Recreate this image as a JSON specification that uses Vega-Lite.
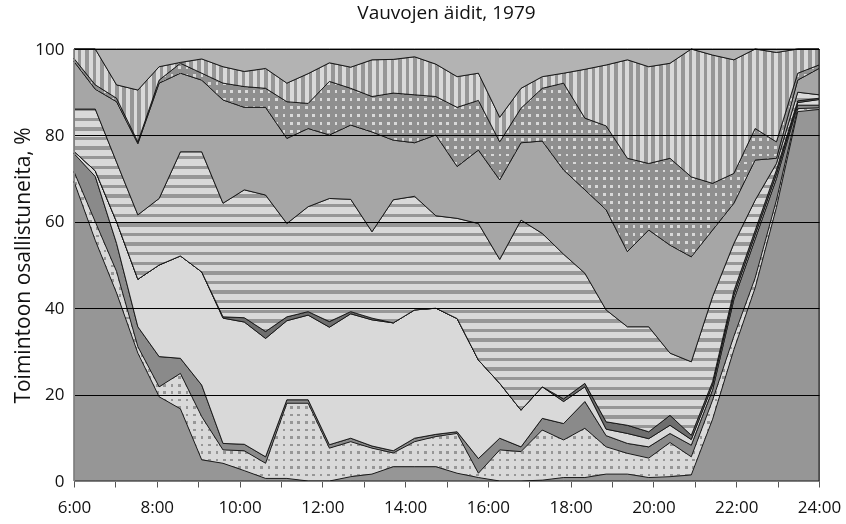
{
  "$schema": "https://vega.github.io/schema/vega-lite/v6.json",
  "width": 745,
  "height": 432,
  "autosize": "none",
  "padding": {"left": 74, "top": 49, "right": 27, "bottom": 43},
  "background": "white",
  "config": {
    "font": "Open Sans",
    "view": {"stroke": "#808080", "strokeWidth": 1},
    "axis": {"labelFont": "Open Sans", "titleFont": "Open Sans", "labelColor": "#111", "titleColor": "#111", "domainColor": "#808080"}
  },
  "title": {"text": "Vauvojen äidit, 1979", "fontSize": 19, "fontWeight": "normal", "color": "#111", "offset": 17, "anchor": "middle"},
  "data": {"values": [
    {"t": 6.000, "L01": 69.3, "L02": 2.3, "L03": 4.2, "L04": 0.5, "L05": 0, "L06": 9.8, "L07": 11.0, "L08": 0.7, "L09": 2.2, "L10": 0},
    {"t": 6.514, "L01": 55.7, "L02": 4.3, "L03": 10.5, "L04": 1.3, "L05": 0, "L06": 14.3, "L07": 4.6, "L08": 1.0, "L09": 8.3, "L10": 0},
    {"t": 7.029, "L01": 43.5, "L02": 5.0, "L03": 6.5, "L04": 5.0, "L05": 0, "L06": 13.8, "L07": 14.0, "L08": 0.8, "L09": 3.1, "L10": 8.3},
    {"t": 7.543, "L01": 29.6, "L02": 1.5, "L03": 4.6, "L04": 11.0, "L05": 0, "L06": 14.9, "L07": 16.5, "L08": 0.4, "L09": 12.0, "L10": 9.5},
    {"t": 8.057, "L01": 19.5, "L02": 2.3, "L03": 7.0, "L04": 21.2, "L05": 0, "L06": 15.4, "L07": 26.7, "L08": 0.7, "L09": 3.1, "L10": 4.1},
    {"t": 8.571, "L01": 16.7, "L02": 8.2, "L03": 3.5, "L04": 23.7, "L05": 0, "L06": 24.1, "L07": 18.2, "L08": 2.3, "L09": 0.2, "L10": 3.1},
    {"t": 9.086, "L01": 4.9, "L02": 10.0, "L03": 7.3, "L04": 26.2, "L05": 0, "L06": 27.8, "L07": 16.6, "L08": 1.6, "L09": 3.3, "L10": 2.3},
    {"t": 9.600, "L01": 4.1, "L02": 3.1, "L03": 1.5, "L04": 29.0, "L05": 0.3, "L06": 26.3, "L07": 23.9, "L08": 3.9, "L09": 3.8, "L10": 4.1},
    {"t": 10.114, "L01": 2.4, "L02": 4.6, "L03": 1.5, "L04": 28.3, "L05": 1.0, "L06": 29.6, "L07": 19.1, "L08": 4.8, "L09": 3.5, "L10": 5.2},
    {"t": 10.629, "L01": 0.6, "L02": 3.5, "L03": 1.5, "L04": 27.4, "L05": 1.6, "L06": 31.6, "L07": 20.3, "L08": 4.4, "L09": 4.6, "L10": 4.5},
    {"t": 11.143, "L01": 0.6, "L02": 17.4, "L03": 0.8, "L04": 18.3, "L05": 0.9, "L06": 21.6, "L07": 19.7, "L08": 8.5, "L09": 4.3, "L10": 7.9},
    {"t": 11.657, "L01": 0, "L02": 18.0, "L03": 0.8, "L04": 19.6, "L05": 0.8, "L06": 24.3, "L07": 18.1, "L08": 5.8, "L09": 6.9, "L10": 5.7},
    {"t": 12.171, "L01": 0, "L02": 7.6, "L03": 0.8, "L04": 27.2, "L05": 1.3, "L06": 28.5, "L07": 14.7, "L08": 12.4, "L09": 4.3, "L10": 3.2},
    {"t": 12.686, "L01": 1.0, "L02": 8.1, "L03": 0.8, "L04": 28.8, "L05": 0.5, "L06": 26.0, "L07": 17.2, "L08": 8.5, "L09": 4.9, "L10": 4.2},
    {"t": 13.200, "L01": 1.6, "L02": 6.0, "L03": 0.5, "L04": 29.2, "L05": 0.4, "L06": 20.0, "L07": 23.1, "L08": 8.2, "L09": 8.5, "L10": 2.5},
    {"t": 13.714, "L01": 3.3, "L02": 3.2, "L03": 0.5, "L04": 29.6, "L05": 0, "L06": 28.5, "L07": 13.8, "L08": 10.9, "L09": 7.8, "L10": 2.4},
    {"t": 14.229, "L01": 3.3, "L02": 5.8, "L03": 0.8, "L04": 29.7, "L05": 0, "L06": 26.3, "L07": 12.4, "L08": 11.1, "L09": 8.8, "L10": 1.8},
    {"t": 14.743, "L01": 3.3, "L02": 7.0, "L03": 0.5, "L04": 29.2, "L05": 0, "L06": 21.4, "L07": 18.7, "L08": 8.9, "L09": 7.5, "L10": 3.5},
    {"t": 15.257, "L01": 1.8, "L02": 9.2, "L03": 0.4, "L04": 26.2, "L05": 0, "L06": 23.2, "L07": 12.0, "L08": 13.7, "L09": 7.1, "L10": 6.4},
    {"t": 15.771, "L01": 0.8, "L02": 1.0, "L03": 3.4, "L04": 22.8, "L05": 0, "L06": 31.6, "L07": 17.0, "L08": 11.5, "L09": 6.3, "L10": 5.6},
    {"t": 16.286, "L01": 0, "L02": 7.2, "L03": 2.7, "L04": 12.7, "L05": 0, "L06": 28.7, "L07": 18.4, "L08": 8.8, "L09": 5.7, "L10": 15.8},
    {"t": 16.800, "L01": 0, "L02": 6.8, "L03": 1.1, "L04": 8.5, "L05": 0, "L06": 44.0, "L07": 17.9, "L08": 8.0, "L09": 4.6, "L10": 9.1},
    {"t": 17.314, "L01": 0.2, "L02": 11.6, "L03": 2.7, "L04": 7.3, "L05": 0, "L06": 35.5, "L07": 21.4, "L08": 12.2, "L09": 2.7, "L10": 6.4},
    {"t": 17.829, "L01": 0.8, "L02": 8.7, "L03": 3.8, "L04": 5.1, "L05": 0.6, "L06": 33.5, "L07": 19.5, "L08": 20.1, "L09": 2.3, "L10": 5.6},
    {"t": 18.343, "L01": 0.8, "L02": 11.4, "L03": 6.2, "L04": 3.4, "L05": 0.8, "L06": 25.5, "L07": 19.3, "L08": 16.6, "L09": 11.3, "L10": 4.7},
    {"t": 18.857, "L01": 1.6, "L02": 6.3, "L03": 2.6, "L04": 1.5, "L05": 1.7, "L06": 25.9, "L07": 23.2, "L08": 19.4, "L09": 14.1, "L10": 3.7},
    {"t": 19.371, "L01": 1.6, "L02": 4.8, "L03": 2.3, "L04": 2.3, "L05": 1.9, "L06": 22.8, "L07": 17.4, "L08": 21.6, "L09": 22.8, "L10": 2.5},
    {"t": 19.886, "L01": 0.8, "L02": 4.5, "L03": 2.6, "L04": 1.9, "L05": 1.6, "L06": 24.3, "L07": 22.4, "L08": 15.4, "L09": 22.4, "L10": 4.1},
    {"t": 20.400, "L01": 1.0, "L02": 7.9, "L03": 2.1, "L04": 1.9, "L05": 2.3, "L06": 14.4, "L07": 25.0, "L08": 20.1, "L09": 22.0, "L10": 3.3},
    {"t": 20.914, "L01": 1.4, "L02": 4.2, "L03": 2.7, "L04": 1.3, "L05": 1.0, "L06": 17.0, "L07": 24.3, "L08": 18.5, "L09": 29.6, "L10": 0},
    {"t": 21.429, "L01": 14.3, "L02": 4.4, "L03": 2.4, "L04": 1.1, "L05": 0.8, "L06": 19.7, "L07": 15.4, "L08": 10.8, "L09": 29.7, "L10": 1.4},
    {"t": 21.943, "L01": 30.4, "L02": 3.1, "L03": 8.5, "L04": 1.0, "L05": 1.0, "L06": 11.0, "L07": 9.3, "L08": 6.9, "L09": 26.3, "L10": 2.5},
    {"t": 22.457, "L01": 44.7, "L02": 2.3, "L03": 9.0, "L04": 1.0, "L05": 1.0, "L06": 7.0, "L07": 9.3, "L08": 7.3, "L09": 18.4, "L10": 0},
    {"t": 22.971, "L01": 63.3, "L02": 1.7, "L03": 5.0, "L04": 1.0, "L05": 1.0, "L06": 1.5, "L07": 1.2, "L08": 3.8, "L09": 20.7, "L10": 0.8},
    {"t": 23.486, "L01": 85.5, "L02": 0.7, "L03": 0.8, "L04": 0.6, "L05": 0.4, "L06": 2.0, "L07": 2.8, "L08": 1.6, "L09": 5.6, "L10": 0},
    {"t": 24.000, "L01": 86.0, "L02": 0.4, "L03": 0.6, "L04": 1.3, "L05": 0.3, "L06": 0.8, "L07": 6.1, "L08": 0.8, "L09": 3.7, "L10": 0}
  ]},
  "transform": [
    {"fold": ["L01", "L02", "L03", "L04", "L05", "L06", "L07", "L08", "L09", "L10"], "as": ["key", "value"]},
    {"stack": "value", "groupby": ["t"], "sort": [{"field": "key", "order": "ascending"}], "as": ["y0", "y1"]}
  ],
  "encoding": {
    "x": {"field": "t", "type": "quantitative", "scale": {"domain": [6, 24], "nice": false, "zero": false},
      "axis": {"title": null, "values": [6,7,8,9,10,11,12,13,14,15,16,17,18,19,20,21,22,23,24], "labelExpr": "datum.value % 2 == 0 ? datum.value + ':00' : ''", "labelFontSize": 17, "tickSize": 6, "tickColor": "#555", "labelPadding": 12, "grid": false, "labelFlush": false, "labelOverlap": false, "zindex": 1}},
    "y": {"field": "y1", "type": "quantitative", "scale": {"domain": [0, 100], "nice": false},
      "axis": {"title": "Toimintoon osallistuneita, %", "titleFontSize": 21, "titleFontWeight": "normal", "titlePadding": 1, "values": [0,20,40,60,80,100], "labelFontSize": 17, "ticks": false, "labelPadding": 10, "grid": true, "gridColor": "#000", "gridWidth": 1, "zindex": 1}},
    "y2": {"field": "y0"}
  },
  "layer": [
    {"transform": [{"filter": "datum.key === 'L02'"}], "mark": {"type": "area", "stroke": "#111", "strokeWidth": 0.9, "fill": {"gradient": "linear", "x1": 0, "y1": 0, "x2": 1, "y2": 0, "stops": [
      {"offset":0,"color":"#969696"},{"offset":0.0035,"color":"#969696"},{"offset":0.0035,"color":"#d9d9d9"},{"offset":0.01,"color":"#d9d9d9"},
      {"offset":0.01,"color":"#969696"},{"offset":0.0135,"color":"#969696"},{"offset":0.0135,"color":"#d9d9d9"},{"offset":0.02,"color":"#d9d9d9"},
      {"offset":0.02,"color":"#969696"},{"offset":0.0235,"color":"#969696"},{"offset":0.0235,"color":"#d9d9d9"},{"offset":0.03,"color":"#d9d9d9"},
      {"offset":0.03,"color":"#969696"},{"offset":0.0335,"color":"#969696"},{"offset":0.0335,"color":"#d9d9d9"},{"offset":0.04,"color":"#d9d9d9"},
      {"offset":0.04,"color":"#969696"},{"offset":0.0435,"color":"#969696"},{"offset":0.0435,"color":"#d9d9d9"},{"offset":0.05,"color":"#d9d9d9"},
      {"offset":0.05,"color":"#969696"},{"offset":0.0535,"color":"#969696"},{"offset":0.0535,"color":"#d9d9d9"},{"offset":0.06,"color":"#d9d9d9"},
      {"offset":0.06,"color":"#969696"},{"offset":0.0635,"color":"#969696"},{"offset":0.0635,"color":"#d9d9d9"},{"offset":0.07,"color":"#d9d9d9"},
      {"offset":0.07,"color":"#969696"},{"offset":0.0735,"color":"#969696"},{"offset":0.0735,"color":"#d9d9d9"},{"offset":0.08,"color":"#d9d9d9"},
      {"offset":0.08,"color":"#969696"},{"offset":0.0835,"color":"#969696"},{"offset":0.0835,"color":"#d9d9d9"},{"offset":0.09,"color":"#d9d9d9"},
      {"offset":0.09,"color":"#969696"},{"offset":0.0935,"color":"#969696"},{"offset":0.0935,"color":"#d9d9d9"},{"offset":0.1,"color":"#d9d9d9"},
      {"offset":0.1,"color":"#969696"},{"offset":0.1035,"color":"#969696"},{"offset":0.1035,"color":"#d9d9d9"},{"offset":0.11,"color":"#d9d9d9"},
      {"offset":0.11,"color":"#969696"},{"offset":0.1135,"color":"#969696"},{"offset":0.1135,"color":"#d9d9d9"},{"offset":0.12,"color":"#d9d9d9"},
      {"offset":0.12,"color":"#969696"},{"offset":0.1235,"color":"#969696"},{"offset":0.1235,"color":"#d9d9d9"},{"offset":0.13,"color":"#d9d9d9"},
      {"offset":0.13,"color":"#969696"},{"offset":0.1335,"color":"#969696"},{"offset":0.1335,"color":"#d9d9d9"},{"offset":0.14,"color":"#d9d9d9"},
      {"offset":0.14,"color":"#969696"},{"offset":0.1435,"color":"#969696"},{"offset":0.1435,"color":"#d9d9d9"},{"offset":0.15,"color":"#d9d9d9"},
      {"offset":0.15,"color":"#969696"},{"offset":0.1535,"color":"#969696"},{"offset":0.1535,"color":"#d9d9d9"},{"offset":0.16,"color":"#d9d9d9"},
      {"offset":0.16,"color":"#969696"},{"offset":0.1635,"color":"#969696"},{"offset":0.1635,"color":"#d9d9d9"},{"offset":0.17,"color":"#d9d9d9"},
      {"offset":0.17,"color":"#969696"},{"offset":0.1735,"color":"#969696"},{"offset":0.1735,"color":"#d9d9d9"},{"offset":0.18,"color":"#d9d9d9"},
      {"offset":0.18,"color":"#969696"},{"offset":0.1835,"color":"#969696"},{"offset":0.1835,"color":"#d9d9d9"},{"offset":0.19,"color":"#d9d9d9"},
      {"offset":0.19,"color":"#969696"},{"offset":0.1935,"color":"#969696"},{"offset":0.1935,"color":"#d9d9d9"},{"offset":0.2,"color":"#d9d9d9"},
      {"offset":0.2,"color":"#969696"},{"offset":0.2035,"color":"#969696"},{"offset":0.2035,"color":"#d9d9d9"},{"offset":0.21,"color":"#d9d9d9"},
      {"offset":0.21,"color":"#969696"},{"offset":0.2135,"color":"#969696"},{"offset":0.2135,"color":"#d9d9d9"},{"offset":0.22,"color":"#d9d9d9"},
      {"offset":0.22,"color":"#969696"},{"offset":0.2235,"color":"#969696"},{"offset":0.2235,"color":"#d9d9d9"},{"offset":0.23,"color":"#d9d9d9"},
      {"offset":0.23,"color":"#969696"},{"offset":0.2335,"color":"#969696"},{"offset":0.2335,"color":"#d9d9d9"},{"offset":0.24,"color":"#d9d9d9"},
      {"offset":0.24,"color":"#969696"},{"offset":0.2435,"color":"#969696"},{"offset":0.2435,"color":"#d9d9d9"},{"offset":0.25,"color":"#d9d9d9"},
      {"offset":0.25,"color":"#969696"},{"offset":0.2535,"color":"#969696"},{"offset":0.2535,"color":"#d9d9d9"},{"offset":0.26,"color":"#d9d9d9"},
      {"offset":0.26,"color":"#969696"},{"offset":0.2635,"color":"#969696"},{"offset":0.2635,"color":"#d9d9d9"},{"offset":0.27,"color":"#d9d9d9"},
      {"offset":0.27,"color":"#969696"},{"offset":0.2735,"color":"#969696"},{"offset":0.2735,"color":"#d9d9d9"},{"offset":0.28,"color":"#d9d9d9"},
      {"offset":0.28,"color":"#969696"},{"offset":0.2835,"color":"#969696"},{"offset":0.2835,"color":"#d9d9d9"},{"offset":0.29,"color":"#d9d9d9"},
      {"offset":0.29,"color":"#969696"},{"offset":0.2935,"color":"#969696"},{"offset":0.2935,"color":"#d9d9d9"},{"offset":0.3,"color":"#d9d9d9"},
      {"offset":0.3,"color":"#969696"},{"offset":0.3035,"color":"#969696"},{"offset":0.3035,"color":"#d9d9d9"},{"offset":0.31,"color":"#d9d9d9"},
      {"offset":0.31,"color":"#969696"},{"offset":0.3135,"color":"#969696"},{"offset":0.3135,"color":"#d9d9d9"},{"offset":0.32,"color":"#d9d9d9"},
      {"offset":0.32,"color":"#969696"},{"offset":0.3235,"color":"#969696"},{"offset":0.3235,"color":"#d9d9d9"},{"offset":0.33,"color":"#d9d9d9"},
      {"offset":0.33,"color":"#969696"},{"offset":0.3335,"color":"#969696"},{"offset":0.3335,"color":"#d9d9d9"},{"offset":0.34,"color":"#d9d9d9"},
      {"offset":0.34,"color":"#969696"},{"offset":0.3435,"color":"#969696"},{"offset":0.3435,"color":"#d9d9d9"},{"offset":0.35,"color":"#d9d9d9"},
      {"offset":0.35,"color":"#969696"},{"offset":0.3535,"color":"#969696"},{"offset":0.3535,"color":"#d9d9d9"},{"offset":0.36,"color":"#d9d9d9"},
      {"offset":0.36,"color":"#969696"},{"offset":0.3635,"color":"#969696"},{"offset":0.3635,"color":"#d9d9d9"},{"offset":0.37,"color":"#d9d9d9"},
      {"offset":0.37,"color":"#969696"},{"offset":0.3735,"color":"#969696"},{"offset":0.3735,"color":"#d9d9d9"},{"offset":0.38,"color":"#d9d9d9"},
      {"offset":0.38,"color":"#969696"},{"offset":0.3835,"color":"#969696"},{"offset":0.3835,"color":"#d9d9d9"},{"offset":0.39,"color":"#d9d9d9"},
      {"offset":0.39,"color":"#969696"},{"offset":0.3935,"color":"#969696"},{"offset":0.3935,"color":"#d9d9d9"},{"offset":0.4,"color":"#d9d9d9"},
      {"offset":0.4,"color":"#969696"},{"offset":0.4035,"color":"#969696"},{"offset":0.4035,"color":"#d9d9d9"},{"offset":0.41,"color":"#d9d9d9"},
      {"offset":0.41,"color":"#969696"},{"offset":0.4135,"color":"#969696"},{"offset":0.4135,"color":"#d9d9d9"},{"offset":0.42,"color":"#d9d9d9"},
      {"offset":0.42,"color":"#969696"},{"offset":0.4235,"color":"#969696"},{"offset":0.4235,"color":"#d9d9d9"},{"offset":0.43,"color":"#d9d9d9"},
      {"offset":0.43,"color":"#969696"},{"offset":0.4335,"color":"#969696"},{"offset":0.4335,"color":"#d9d9d9"},{"offset":0.44,"color":"#d9d9d9"},
      {"offset":0.44,"color":"#969696"},{"offset":0.4435,"color":"#969696"},{"offset":0.4435,"color":"#d9d9d9"},{"offset":0.45,"color":"#d9d9d9"},
      {"offset":0.45,"color":"#969696"},{"offset":0.4535,"color":"#969696"},{"offset":0.4535,"color":"#d9d9d9"},{"offset":0.46,"color":"#d9d9d9"},
      {"offset":0.46,"color":"#969696"},{"offset":0.4635,"color":"#969696"},{"offset":0.4635,"color":"#d9d9d9"},{"offset":0.47,"color":"#d9d9d9"},
      {"offset":0.47,"color":"#969696"},{"offset":0.4735,"color":"#969696"},{"offset":0.4735,"color":"#d9d9d9"},{"offset":0.48,"color":"#d9d9d9"},
      {"offset":0.48,"color":"#969696"},{"offset":0.4835,"color":"#969696"},{"offset":0.4835,"color":"#d9d9d9"},{"offset":0.49,"color":"#d9d9d9"},
      {"offset":0.49,"color":"#969696"},{"offset":0.4935,"color":"#969696"},{"offset":0.4935,"color":"#d9d9d9"},{"offset":0.5,"color":"#d9d9d9"},
      {"offset":0.5,"color":"#969696"},{"offset":0.5035,"color":"#969696"},{"offset":0.5035,"color":"#d9d9d9"},{"offset":0.51,"color":"#d9d9d9"},
      {"offset":0.51,"color":"#969696"},{"offset":0.5135,"color":"#969696"},{"offset":0.5135,"color":"#d9d9d9"},{"offset":0.52,"color":"#d9d9d9"},
      {"offset":0.52,"color":"#969696"},{"offset":0.5235,"color":"#969696"},{"offset":0.5235,"color":"#d9d9d9"},{"offset":0.53,"color":"#d9d9d9"},
      {"offset":0.53,"color":"#969696"},{"offset":0.5335,"color":"#969696"},{"offset":0.5335,"color":"#d9d9d9"},{"offset":0.54,"color":"#d9d9d9"},
      {"offset":0.54,"color":"#969696"},{"offset":0.5435,"color":"#969696"},{"offset":0.5435,"color":"#d9d9d9"},{"offset":0.55,"color":"#d9d9d9"},
      {"offset":0.55,"color":"#969696"},{"offset":0.5535,"color":"#969696"},{"offset":0.5535,"color":"#d9d9d9"},{"offset":0.56,"color":"#d9d9d9"},
      {"offset":0.56,"color":"#969696"},{"offset":0.5635,"color":"#969696"},{"offset":0.5635,"color":"#d9d9d9"},{"offset":0.57,"color":"#d9d9d9"},
      {"offset":0.57,"color":"#969696"},{"offset":0.5735,"color":"#969696"},{"offset":0.5735,"color":"#d9d9d9"},{"offset":0.58,"color":"#d9d9d9"},
      {"offset":0.58,"color":"#969696"},{"offset":0.5835,"color":"#969696"},{"offset":0.5835,"color":"#d9d9d9"},{"offset":0.59,"color":"#d9d9d9"},
      {"offset":0.59,"color":"#969696"},{"offset":0.5935,"color":"#969696"},{"offset":0.5935,"color":"#d9d9d9"},{"offset":0.6,"color":"#d9d9d9"},
      {"offset":0.6,"color":"#969696"},{"offset":0.6035,"color":"#969696"},{"offset":0.6035,"color":"#d9d9d9"},{"offset":0.61,"color":"#d9d9d9"},
      {"offset":0.61,"color":"#969696"},{"offset":0.6135,"color":"#969696"},{"offset":0.6135,"color":"#d9d9d9"},{"offset":0.62,"color":"#d9d9d9"},
      {"offset":0.62,"color":"#969696"},{"offset":0.6235,"color":"#969696"},{"offset":0.6235,"color":"#d9d9d9"},{"offset":0.63,"color":"#d9d9d9"},
      {"offset":0.63,"color":"#969696"},{"offset":0.6335,"color":"#969696"},{"offset":0.6335,"color":"#d9d9d9"},{"offset":0.64,"color":"#d9d9d9"},
      {"offset":0.64,"color":"#969696"},{"offset":0.6435,"color":"#969696"},{"offset":0.6435,"color":"#d9d9d9"},{"offset":0.65,"color":"#d9d9d9"},
      {"offset":0.65,"color":"#969696"},{"offset":0.6535,"color":"#969696"},{"offset":0.6535,"color":"#d9d9d9"},{"offset":0.66,"color":"#d9d9d9"},
      {"offset":0.66,"color":"#969696"},{"offset":0.6635,"color":"#969696"},{"offset":0.6635,"color":"#d9d9d9"},{"offset":0.67,"color":"#d9d9d9"},
      {"offset":0.67,"color":"#969696"},{"offset":0.6735,"color":"#969696"},{"offset":0.6735,"color":"#d9d9d9"},{"offset":0.68,"color":"#d9d9d9"},
      {"offset":0.68,"color":"#969696"},{"offset":0.6835,"color":"#969696"},{"offset":0.6835,"color":"#d9d9d9"},{"offset":0.69,"color":"#d9d9d9"},
      {"offset":0.69,"color":"#969696"},{"offset":0.6935,"color":"#969696"},{"offset":0.6935,"color":"#d9d9d9"},{"offset":0.7,"color":"#d9d9d9"},
      {"offset":0.7,"color":"#969696"},{"offset":0.7035,"color":"#969696"},{"offset":0.7035,"color":"#d9d9d9"},{"offset":0.71,"color":"#d9d9d9"},
      {"offset":0.71,"color":"#969696"},{"offset":0.7135,"color":"#969696"},{"offset":0.7135,"color":"#d9d9d9"},{"offset":0.72,"color":"#d9d9d9"},
      {"offset":0.72,"color":"#969696"},{"offset":0.7235,"color":"#969696"},{"offset":0.7235,"color":"#d9d9d9"},{"offset":0.73,"color":"#d9d9d9"},
      {"offset":0.73,"color":"#969696"},{"offset":0.7335,"color":"#969696"},{"offset":0.7335,"color":"#d9d9d9"},{"offset":0.74,"color":"#d9d9d9"},
      {"offset":0.74,"color":"#969696"},{"offset":0.7435,"color":"#969696"},{"offset":0.7435,"color":"#d9d9d9"},{"offset":0.75,"color":"#d9d9d9"},
      {"offset":0.75,"color":"#969696"},{"offset":0.7535,"color":"#969696"},{"offset":0.7535,"color":"#d9d9d9"},{"offset":0.76,"color":"#d9d9d9"},
      {"offset":0.76,"color":"#969696"},{"offset":0.7635,"color":"#969696"},{"offset":0.7635,"color":"#d9d9d9"},{"offset":0.77,"color":"#d9d9d9"},
      {"offset":0.77,"color":"#969696"},{"offset":0.7735,"color":"#969696"},{"offset":0.7735,"color":"#d9d9d9"},{"offset":0.78,"color":"#d9d9d9"},
      {"offset":0.78,"color":"#969696"},{"offset":0.7835,"color":"#969696"},{"offset":0.7835,"color":"#d9d9d9"},{"offset":0.79,"color":"#d9d9d9"},
      {"offset":0.79,"color":"#969696"},{"offset":0.7935,"color":"#969696"},{"offset":0.7935,"color":"#d9d9d9"},{"offset":0.8,"color":"#d9d9d9"},
      {"offset":0.8,"color":"#969696"},{"offset":0.8035,"color":"#969696"},{"offset":0.8035,"color":"#d9d9d9"},{"offset":0.81,"color":"#d9d9d9"},
      {"offset":0.81,"color":"#969696"},{"offset":0.8135,"color":"#969696"},{"offset":0.8135,"color":"#d9d9d9"},{"offset":0.82,"color":"#d9d9d9"},
      {"offset":0.82,"color":"#969696"},{"offset":0.8235,"color":"#969696"},{"offset":0.8235,"color":"#d9d9d9"},{"offset":0.83,"color":"#d9d9d9"},
      {"offset":0.83,"color":"#969696"},{"offset":0.8335,"color":"#969696"},{"offset":0.8335,"color":"#d9d9d9"},{"offset":0.84,"color":"#d9d9d9"},
      {"offset":0.84,"color":"#969696"},{"offset":0.8435,"color":"#969696"},{"offset":0.8435,"color":"#d9d9d9"},{"offset":0.85,"color":"#d9d9d9"},
      {"offset":0.85,"color":"#969696"},{"offset":0.8535,"color":"#969696"},{"offset":0.8535,"color":"#d9d9d9"},{"offset":0.86,"color":"#d9d9d9"},
      {"offset":0.86,"color":"#969696"},{"offset":0.8635,"color":"#969696"},{"offset":0.8635,"color":"#d9d9d9"},{"offset":0.87,"color":"#d9d9d9"},
      {"offset":0.87,"color":"#969696"},{"offset":0.8735,"color":"#969696"},{"offset":0.8735,"color":"#d9d9d9"},{"offset":0.88,"color":"#d9d9d9"},
      {"offset":0.88,"color":"#969696"},{"offset":0.8835,"color":"#969696"},{"offset":0.8835,"color":"#d9d9d9"},{"offset":0.89,"color":"#d9d9d9"},
      {"offset":0.89,"color":"#969696"},{"offset":0.8935,"color":"#969696"},{"offset":0.8935,"color":"#d9d9d9"},{"offset":0.9,"color":"#d9d9d9"},
      {"offset":0.9,"color":"#969696"},{"offset":0.9035,"color":"#969696"},{"offset":0.9035,"color":"#d9d9d9"},{"offset":0.91,"color":"#d9d9d9"},
      {"offset":0.91,"color":"#969696"},{"offset":0.9135,"color":"#969696"},{"offset":0.9135,"color":"#d9d9d9"},{"offset":0.92,"color":"#d9d9d9"},
      {"offset":0.92,"color":"#969696"},{"offset":0.9235,"color":"#969696"},{"offset":0.9235,"color":"#d9d9d9"},{"offset":0.93,"color":"#d9d9d9"},
      {"offset":0.93,"color":"#969696"},{"offset":0.9335,"color":"#969696"},{"offset":0.9335,"color":"#d9d9d9"},{"offset":0.94,"color":"#d9d9d9"},
      {"offset":0.94,"color":"#969696"},{"offset":0.9435,"color":"#969696"},{"offset":0.9435,"color":"#d9d9d9"},{"offset":0.95,"color":"#d9d9d9"},
      {"offset":0.95,"color":"#969696"},{"offset":0.9535,"color":"#969696"},{"offset":0.9535,"color":"#d9d9d9"},{"offset":0.96,"color":"#d9d9d9"},
      {"offset":0.96,"color":"#969696"},{"offset":0.9635,"color":"#969696"},{"offset":0.9635,"color":"#d9d9d9"},{"offset":0.97,"color":"#d9d9d9"},
      {"offset":0.97,"color":"#969696"},{"offset":0.9735,"color":"#969696"},{"offset":0.9735,"color":"#d9d9d9"},{"offset":0.98,"color":"#d9d9d9"},
      {"offset":0.98,"color":"#969696"},{"offset":0.9835,"color":"#969696"},{"offset":0.9835,"color":"#d9d9d9"},{"offset":0.99,"color":"#d9d9d9"},
      {"offset":0.99,"color":"#969696"},{"offset":0.9935,"color":"#969696"},{"offset":0.9935,"color":"#d9d9d9"},{"offset":1,"color":"#d9d9d9"}
    ]}}},
    {"transform": [{"filter": "datum.key === 'L02'"}], "mark": {"type": "area", "blend": "lighten", "strokeWidth": 0, "fill": {"gradient": "linear", "x1": 0, "y1": 0, "x2": 0, "y2": 1, "stops": [
      {"offset":0,"color":"#969696"},{"offset":0.007,"color":"#969696"},{"offset":0.007,"color":"#d9d9d9"},{"offset":0.02,"color":"#d9d9d9"},
      {"offset":0.02,"color":"#969696"},{"offset":0.027,"color":"#969696"},{"offset":0.027,"color":"#d9d9d9"},{"offset":0.04,"color":"#d9d9d9"},
      {"offset":0.04,"color":"#969696"},{"offset":0.047,"color":"#969696"},{"offset":0.047,"color":"#d9d9d9"},{"offset":0.06,"color":"#d9d9d9"},
      {"offset":0.06,"color":"#969696"},{"offset":0.067,"color":"#969696"},{"offset":0.067,"color":"#d9d9d9"},{"offset":0.08,"color":"#d9d9d9"},
      {"offset":0.08,"color":"#969696"},{"offset":0.087,"color":"#969696"},{"offset":0.087,"color":"#d9d9d9"},{"offset":0.1,"color":"#d9d9d9"},
      {"offset":0.1,"color":"#969696"},{"offset":0.107,"color":"#969696"},{"offset":0.107,"color":"#d9d9d9"},{"offset":0.12,"color":"#d9d9d9"},
      {"offset":0.12,"color":"#969696"},{"offset":0.127,"color":"#969696"},{"offset":0.127,"color":"#d9d9d9"},{"offset":0.14,"color":"#d9d9d9"},
      {"offset":0.14,"color":"#969696"},{"offset":0.147,"color":"#969696"},{"offset":0.147,"color":"#d9d9d9"},{"offset":0.16,"color":"#d9d9d9"},
      {"offset":0.16,"color":"#969696"},{"offset":0.167,"color":"#969696"},{"offset":0.167,"color":"#d9d9d9"},{"offset":0.18,"color":"#d9d9d9"},
      {"offset":0.18,"color":"#969696"},{"offset":0.187,"color":"#969696"},{"offset":0.187,"color":"#d9d9d9"},{"offset":0.2,"color":"#d9d9d9"},
      {"offset":0.2,"color":"#969696"},{"offset":0.207,"color":"#969696"},{"offset":0.207,"color":"#d9d9d9"},{"offset":0.22,"color":"#d9d9d9"},
      {"offset":0.22,"color":"#969696"},{"offset":0.227,"color":"#969696"},{"offset":0.227,"color":"#d9d9d9"},{"offset":0.24,"color":"#d9d9d9"},
      {"offset":0.24,"color":"#969696"},{"offset":0.247,"color":"#969696"},{"offset":0.247,"color":"#d9d9d9"},{"offset":0.26,"color":"#d9d9d9"},
      {"offset":0.26,"color":"#969696"},{"offset":0.267,"color":"#969696"},{"offset":0.267,"color":"#d9d9d9"},{"offset":0.28,"color":"#d9d9d9"},
      {"offset":0.28,"color":"#969696"},{"offset":0.287,"color":"#969696"},{"offset":0.287,"color":"#d9d9d9"},{"offset":0.3,"color":"#d9d9d9"},
      {"offset":0.3,"color":"#969696"},{"offset":0.307,"color":"#969696"},{"offset":0.307,"color":"#d9d9d9"},{"offset":0.32,"color":"#d9d9d9"},
      {"offset":0.32,"color":"#969696"},{"offset":0.327,"color":"#969696"},{"offset":0.327,"color":"#d9d9d9"},{"offset":0.34,"color":"#d9d9d9"},
      {"offset":0.34,"color":"#969696"},{"offset":0.347,"color":"#969696"},{"offset":0.347,"color":"#d9d9d9"},{"offset":0.36,"color":"#d9d9d9"},
      {"offset":0.36,"color":"#969696"},{"offset":0.367,"color":"#969696"},{"offset":0.367,"color":"#d9d9d9"},{"offset":0.38,"color":"#d9d9d9"},
      {"offset":0.38,"color":"#969696"},{"offset":0.387,"color":"#969696"},{"offset":0.387,"color":"#d9d9d9"},{"offset":0.4,"color":"#d9d9d9"},
      {"offset":0.4,"color":"#969696"},{"offset":0.407,"color":"#969696"},{"offset":0.407,"color":"#d9d9d9"},{"offset":0.42,"color":"#d9d9d9"},
      {"offset":0.42,"color":"#969696"},{"offset":0.427,"color":"#969696"},{"offset":0.427,"color":"#d9d9d9"},{"offset":0.44,"color":"#d9d9d9"},
      {"offset":0.44,"color":"#969696"},{"offset":0.447,"color":"#969696"},{"offset":0.447,"color":"#d9d9d9"},{"offset":0.46,"color":"#d9d9d9"},
      {"offset":0.46,"color":"#969696"},{"offset":0.467,"color":"#969696"},{"offset":0.467,"color":"#d9d9d9"},{"offset":0.48,"color":"#d9d9d9"},
      {"offset":0.48,"color":"#969696"},{"offset":0.487,"color":"#969696"},{"offset":0.487,"color":"#d9d9d9"},{"offset":0.5,"color":"#d9d9d9"},
      {"offset":0.5,"color":"#969696"},{"offset":0.507,"color":"#969696"},{"offset":0.507,"color":"#d9d9d9"},{"offset":0.52,"color":"#d9d9d9"},
      {"offset":0.52,"color":"#969696"},{"offset":0.527,"color":"#969696"},{"offset":0.527,"color":"#d9d9d9"},{"offset":0.54,"color":"#d9d9d9"},
      {"offset":0.54,"color":"#969696"},{"offset":0.547,"color":"#969696"},{"offset":0.547,"color":"#d9d9d9"},{"offset":0.56,"color":"#d9d9d9"},
      {"offset":0.56,"color":"#969696"},{"offset":0.567,"color":"#969696"},{"offset":0.567,"color":"#d9d9d9"},{"offset":0.58,"color":"#d9d9d9"},
      {"offset":0.58,"color":"#969696"},{"offset":0.587,"color":"#969696"},{"offset":0.587,"color":"#d9d9d9"},{"offset":0.6,"color":"#d9d9d9"},
      {"offset":0.6,"color":"#969696"},{"offset":0.607,"color":"#969696"},{"offset":0.607,"color":"#d9d9d9"},{"offset":0.62,"color":"#d9d9d9"},
      {"offset":0.62,"color":"#969696"},{"offset":0.627,"color":"#969696"},{"offset":0.627,"color":"#d9d9d9"},{"offset":0.64,"color":"#d9d9d9"},
      {"offset":0.64,"color":"#969696"},{"offset":0.647,"color":"#969696"},{"offset":0.647,"color":"#d9d9d9"},{"offset":0.66,"color":"#d9d9d9"},
      {"offset":0.66,"color":"#969696"},{"offset":0.667,"color":"#969696"},{"offset":0.667,"color":"#d9d9d9"},{"offset":0.68,"color":"#d9d9d9"},
      {"offset":0.68,"color":"#969696"},{"offset":0.687,"color":"#969696"},{"offset":0.687,"color":"#d9d9d9"},{"offset":0.7,"color":"#d9d9d9"},
      {"offset":0.7,"color":"#969696"},{"offset":0.707,"color":"#969696"},{"offset":0.707,"color":"#d9d9d9"},{"offset":0.72,"color":"#d9d9d9"},
      {"offset":0.72,"color":"#969696"},{"offset":0.727,"color":"#969696"},{"offset":0.727,"color":"#d9d9d9"},{"offset":0.74,"color":"#d9d9d9"},
      {"offset":0.74,"color":"#969696"},{"offset":0.747,"color":"#969696"},{"offset":0.747,"color":"#d9d9d9"},{"offset":0.76,"color":"#d9d9d9"},
      {"offset":0.76,"color":"#969696"},{"offset":0.767,"color":"#969696"},{"offset":0.767,"color":"#d9d9d9"},{"offset":0.78,"color":"#d9d9d9"},
      {"offset":0.78,"color":"#969696"},{"offset":0.787,"color":"#969696"},{"offset":0.787,"color":"#d9d9d9"},{"offset":0.8,"color":"#d9d9d9"},
      {"offset":0.8,"color":"#969696"},{"offset":0.807,"color":"#969696"},{"offset":0.807,"color":"#d9d9d9"},{"offset":0.82,"color":"#d9d9d9"},
      {"offset":0.82,"color":"#969696"},{"offset":0.827,"color":"#969696"},{"offset":0.827,"color":"#d9d9d9"},{"offset":0.84,"color":"#d9d9d9"},
      {"offset":0.84,"color":"#969696"},{"offset":0.847,"color":"#969696"},{"offset":0.847,"color":"#d9d9d9"},{"offset":0.86,"color":"#d9d9d9"},
      {"offset":0.86,"color":"#969696"},{"offset":0.867,"color":"#969696"},{"offset":0.867,"color":"#d9d9d9"},{"offset":0.88,"color":"#d9d9d9"},
      {"offset":0.88,"color":"#969696"},{"offset":0.887,"color":"#969696"},{"offset":0.887,"color":"#d9d9d9"},{"offset":0.9,"color":"#d9d9d9"},
      {"offset":0.9,"color":"#969696"},{"offset":0.907,"color":"#969696"},{"offset":0.907,"color":"#d9d9d9"},{"offset":0.92,"color":"#d9d9d9"},
      {"offset":0.92,"color":"#969696"},{"offset":0.927,"color":"#969696"},{"offset":0.927,"color":"#d9d9d9"},{"offset":0.94,"color":"#d9d9d9"},
      {"offset":0.94,"color":"#969696"},{"offset":0.947,"color":"#969696"},{"offset":0.947,"color":"#d9d9d9"},{"offset":0.96,"color":"#d9d9d9"},
      {"offset":0.96,"color":"#969696"},{"offset":0.967,"color":"#969696"},{"offset":0.967,"color":"#d9d9d9"},{"offset":0.98,"color":"#d9d9d9"},
      {"offset":0.98,"color":"#969696"},{"offset":0.987,"color":"#969696"},{"offset":0.987,"color":"#d9d9d9"},{"offset":1,"color":"#d9d9d9"}
    ]}}},
    {"transform": [{"filter": "datum.key === 'L01'"}], "mark": {"type": "area", "fill": "#969696", "stroke": "#111", "strokeWidth": 0.9}},
    {"transform": [{"filter": "datum.key === 'L03'"}], "mark": {"type": "area", "fill": "#8a8a8a", "stroke": "#111", "strokeWidth": 0.9}},
    {"transform": [{"filter": "datum.key === 'L04'"}], "mark": {"type": "area", "fill": "#d9d9d9", "stroke": "#111", "strokeWidth": 0.9}},
    {"transform": [{"filter": "datum.key === 'L05'"}], "mark": {"type": "area", "fill": "#6e6e6e", "stroke": "#111", "strokeWidth": 0.9}},
    {"transform": [{"filter": "datum.key === 'L06'"}], "mark": {"type": "area", "stroke": "#111", "strokeWidth": 0.9, "fill": {"gradient": "linear", "x1": 0, "y1": 0, "x2": 0, "y2": 1, "stops": [
      {"offset": 0, "color": "#d9d9d9"}, {"offset": 0.018, "color": "#d9d9d9"}, {"offset": 0.018, "color": "#979797"}, {"offset": 0.028, "color": "#979797"},
      {"offset": 0.028, "color": "#d9d9d9"}, {"offset": 0.046, "color": "#d9d9d9"}, {"offset": 0.046, "color": "#979797"}, {"offset": 0.056, "color": "#979797"},
      {"offset": 0.056, "color": "#d9d9d9"}, {"offset": 0.074, "color": "#d9d9d9"}, {"offset": 0.074, "color": "#979797"}, {"offset": 0.084, "color": "#979797"},
      {"offset": 0.084, "color": "#d9d9d9"}, {"offset": 0.102, "color": "#d9d9d9"}, {"offset": 0.102, "color": "#979797"}, {"offset": 0.112, "color": "#979797"},
      {"offset": 0.112, "color": "#d9d9d9"}, {"offset": 0.13, "color": "#d9d9d9"}, {"offset": 0.13, "color": "#979797"}, {"offset": 0.14, "color": "#979797"},
      {"offset": 0.14, "color": "#d9d9d9"}, {"offset": 0.158, "color": "#d9d9d9"}, {"offset": 0.158, "color": "#979797"}, {"offset": 0.168, "color": "#979797"},
      {"offset": 0.168, "color": "#d9d9d9"}, {"offset": 0.186, "color": "#d9d9d9"}, {"offset": 0.186, "color": "#979797"}, {"offset": 0.196, "color": "#979797"},
      {"offset": 0.196, "color": "#d9d9d9"}, {"offset": 0.214, "color": "#d9d9d9"}, {"offset": 0.214, "color": "#979797"}, {"offset": 0.224, "color": "#979797"},
      {"offset": 0.224, "color": "#d9d9d9"}, {"offset": 0.242, "color": "#d9d9d9"}, {"offset": 0.242, "color": "#979797"}, {"offset": 0.252, "color": "#979797"},
      {"offset": 0.252, "color": "#d9d9d9"}, {"offset": 0.27, "color": "#d9d9d9"}, {"offset": 0.27, "color": "#979797"}, {"offset": 0.28, "color": "#979797"},
      {"offset": 0.28, "color": "#d9d9d9"}, {"offset": 0.298, "color": "#d9d9d9"}, {"offset": 0.298, "color": "#979797"}, {"offset": 0.308, "color": "#979797"},
      {"offset": 0.308, "color": "#d9d9d9"}, {"offset": 0.326, "color": "#d9d9d9"}, {"offset": 0.326, "color": "#979797"}, {"offset": 0.336, "color": "#979797"},
      {"offset": 0.336, "color": "#d9d9d9"}, {"offset": 0.354, "color": "#d9d9d9"}, {"offset": 0.354, "color": "#979797"}, {"offset": 0.364, "color": "#979797"},
      {"offset": 0.364, "color": "#d9d9d9"}, {"offset": 0.382, "color": "#d9d9d9"}, {"offset": 0.382, "color": "#979797"}, {"offset": 0.392, "color": "#979797"},
      {"offset": 0.392, "color": "#d9d9d9"}, {"offset": 0.41, "color": "#d9d9d9"}, {"offset": 0.41, "color": "#979797"}, {"offset": 0.42, "color": "#979797"},
      {"offset": 0.42, "color": "#d9d9d9"}, {"offset": 0.438, "color": "#d9d9d9"}, {"offset": 0.438, "color": "#979797"}, {"offset": 0.448, "color": "#979797"},
      {"offset": 0.448, "color": "#d9d9d9"}, {"offset": 0.466, "color": "#d9d9d9"}, {"offset": 0.466, "color": "#979797"}, {"offset": 0.476, "color": "#979797"},
      {"offset": 0.476, "color": "#d9d9d9"}, {"offset": 0.494, "color": "#d9d9d9"}, {"offset": 0.494, "color": "#979797"}, {"offset": 0.504, "color": "#979797"},
      {"offset": 0.504, "color": "#d9d9d9"}, {"offset": 0.522, "color": "#d9d9d9"}, {"offset": 0.522, "color": "#979797"}, {"offset": 0.532, "color": "#979797"},
      {"offset": 0.532, "color": "#d9d9d9"}, {"offset": 0.55, "color": "#d9d9d9"}, {"offset": 0.55, "color": "#979797"}, {"offset": 0.56, "color": "#979797"},
      {"offset": 0.56, "color": "#d9d9d9"}, {"offset": 0.578, "color": "#d9d9d9"}, {"offset": 0.578, "color": "#979797"}, {"offset": 0.588, "color": "#979797"},
      {"offset": 0.588, "color": "#d9d9d9"}, {"offset": 0.606, "color": "#d9d9d9"}, {"offset": 0.606, "color": "#979797"}, {"offset": 0.616, "color": "#979797"},
      {"offset": 0.616, "color": "#d9d9d9"}, {"offset": 0.634, "color": "#d9d9d9"}, {"offset": 0.634, "color": "#979797"}, {"offset": 0.644, "color": "#979797"},
      {"offset": 0.644, "color": "#d9d9d9"}, {"offset": 0.662, "color": "#d9d9d9"}, {"offset": 0.662, "color": "#979797"}, {"offset": 0.672, "color": "#979797"},
      {"offset": 0.672, "color": "#d9d9d9"}, {"offset": 0.69, "color": "#d9d9d9"}, {"offset": 0.69, "color": "#979797"}, {"offset": 0.7, "color": "#979797"},
      {"offset": 0.7, "color": "#d9d9d9"}, {"offset": 0.718, "color": "#d9d9d9"}, {"offset": 0.718, "color": "#979797"}, {"offset": 0.728, "color": "#979797"},
      {"offset": 0.728, "color": "#d9d9d9"}, {"offset": 0.746, "color": "#d9d9d9"}, {"offset": 0.746, "color": "#979797"}, {"offset": 0.756, "color": "#979797"},
      {"offset": 0.756, "color": "#d9d9d9"}, {"offset": 0.774, "color": "#d9d9d9"}, {"offset": 0.774, "color": "#979797"}, {"offset": 0.784, "color": "#979797"},
      {"offset": 0.784, "color": "#d9d9d9"}, {"offset": 0.802, "color": "#d9d9d9"}, {"offset": 0.802, "color": "#979797"}, {"offset": 0.812, "color": "#979797"},
      {"offset": 0.812, "color": "#d9d9d9"}, {"offset": 0.83, "color": "#d9d9d9"}, {"offset": 0.83, "color": "#979797"}, {"offset": 0.84, "color": "#979797"},
      {"offset": 0.84, "color": "#d9d9d9"}, {"offset": 0.858, "color": "#d9d9d9"}, {"offset": 0.858, "color": "#979797"}, {"offset": 0.868, "color": "#979797"},
      {"offset": 0.868, "color": "#d9d9d9"}, {"offset": 0.886, "color": "#d9d9d9"}, {"offset": 0.886, "color": "#979797"}, {"offset": 0.896, "color": "#979797"},
      {"offset": 0.896, "color": "#d9d9d9"}, {"offset": 0.914, "color": "#d9d9d9"}, {"offset": 0.914, "color": "#979797"}, {"offset": 0.924, "color": "#979797"},
      {"offset": 0.924, "color": "#d9d9d9"}, {"offset": 0.942, "color": "#d9d9d9"}, {"offset": 0.942, "color": "#979797"}, {"offset": 0.952, "color": "#979797"},
      {"offset": 0.952, "color": "#d9d9d9"}, {"offset": 0.97, "color": "#d9d9d9"}, {"offset": 0.97, "color": "#979797"}, {"offset": 0.98, "color": "#979797"},
      {"offset": 0.98, "color": "#d9d9d9"}, {"offset": 0.998, "color": "#d9d9d9"}, {"offset": 0.998, "color": "#979797"}, {"offset": 1, "color": "#979797"}
    ]}}},
    {"transform": [{"filter": "datum.key === 'L07'"}], "mark": {"type": "area", "fill": "#a6a6a6", "stroke": "#111", "strokeWidth": 0.9}},
    {"transform": [{"filter": "datum.key === 'L08'"}], "mark": {"type": "area", "stroke": "#111", "strokeWidth": 0.9, "fill": {"gradient": "linear", "x1": 0, "y1": 0, "x2": 1, "y2": 0, "stops": [
      {"offset":0,"color":"#d9d9d9"},{"offset":0.0035,"color":"#d9d9d9"},{"offset":0.0035,"color":"#8f8f8f"},{"offset":0.01,"color":"#8f8f8f"},
      {"offset":0.01,"color":"#d9d9d9"},{"offset":0.0135,"color":"#d9d9d9"},{"offset":0.0135,"color":"#8f8f8f"},{"offset":0.02,"color":"#8f8f8f"},
      {"offset":0.02,"color":"#d9d9d9"},{"offset":0.0235,"color":"#d9d9d9"},{"offset":0.0235,"color":"#8f8f8f"},{"offset":0.03,"color":"#8f8f8f"},
      {"offset":0.03,"color":"#d9d9d9"},{"offset":0.0335,"color":"#d9d9d9"},{"offset":0.0335,"color":"#8f8f8f"},{"offset":0.04,"color":"#8f8f8f"},
      {"offset":0.04,"color":"#d9d9d9"},{"offset":0.0435,"color":"#d9d9d9"},{"offset":0.0435,"color":"#8f8f8f"},{"offset":0.05,"color":"#8f8f8f"},
      {"offset":0.05,"color":"#d9d9d9"},{"offset":0.0535,"color":"#d9d9d9"},{"offset":0.0535,"color":"#8f8f8f"},{"offset":0.06,"color":"#8f8f8f"},
      {"offset":0.06,"color":"#d9d9d9"},{"offset":0.0635,"color":"#d9d9d9"},{"offset":0.0635,"color":"#8f8f8f"},{"offset":0.07,"color":"#8f8f8f"},
      {"offset":0.07,"color":"#d9d9d9"},{"offset":0.0735,"color":"#d9d9d9"},{"offset":0.0735,"color":"#8f8f8f"},{"offset":0.08,"color":"#8f8f8f"},
      {"offset":0.08,"color":"#d9d9d9"},{"offset":0.0835,"color":"#d9d9d9"},{"offset":0.0835,"color":"#8f8f8f"},{"offset":0.09,"color":"#8f8f8f"},
      {"offset":0.09,"color":"#d9d9d9"},{"offset":0.0935,"color":"#d9d9d9"},{"offset":0.0935,"color":"#8f8f8f"},{"offset":0.1,"color":"#8f8f8f"},
      {"offset":0.1,"color":"#d9d9d9"},{"offset":0.1035,"color":"#d9d9d9"},{"offset":0.1035,"color":"#8f8f8f"},{"offset":0.11,"color":"#8f8f8f"},
      {"offset":0.11,"color":"#d9d9d9"},{"offset":0.1135,"color":"#d9d9d9"},{"offset":0.1135,"color":"#8f8f8f"},{"offset":0.12,"color":"#8f8f8f"},
      {"offset":0.12,"color":"#d9d9d9"},{"offset":0.1235,"color":"#d9d9d9"},{"offset":0.1235,"color":"#8f8f8f"},{"offset":0.13,"color":"#8f8f8f"},
      {"offset":0.13,"color":"#d9d9d9"},{"offset":0.1335,"color":"#d9d9d9"},{"offset":0.1335,"color":"#8f8f8f"},{"offset":0.14,"color":"#8f8f8f"},
      {"offset":0.14,"color":"#d9d9d9"},{"offset":0.1435,"color":"#d9d9d9"},{"offset":0.1435,"color":"#8f8f8f"},{"offset":0.15,"color":"#8f8f8f"},
      {"offset":0.15,"color":"#d9d9d9"},{"offset":0.1535,"color":"#d9d9d9"},{"offset":0.1535,"color":"#8f8f8f"},{"offset":0.16,"color":"#8f8f8f"},
      {"offset":0.16,"color":"#d9d9d9"},{"offset":0.1635,"color":"#d9d9d9"},{"offset":0.1635,"color":"#8f8f8f"},{"offset":0.17,"color":"#8f8f8f"},
      {"offset":0.17,"color":"#d9d9d9"},{"offset":0.1735,"color":"#d9d9d9"},{"offset":0.1735,"color":"#8f8f8f"},{"offset":0.18,"color":"#8f8f8f"},
      {"offset":0.18,"color":"#d9d9d9"},{"offset":0.1835,"color":"#d9d9d9"},{"offset":0.1835,"color":"#8f8f8f"},{"offset":0.19,"color":"#8f8f8f"},
      {"offset":0.19,"color":"#d9d9d9"},{"offset":0.1935,"color":"#d9d9d9"},{"offset":0.1935,"color":"#8f8f8f"},{"offset":0.2,"color":"#8f8f8f"},
      {"offset":0.2,"color":"#d9d9d9"},{"offset":0.2035,"color":"#d9d9d9"},{"offset":0.2035,"color":"#8f8f8f"},{"offset":0.21,"color":"#8f8f8f"},
      {"offset":0.21,"color":"#d9d9d9"},{"offset":0.2135,"color":"#d9d9d9"},{"offset":0.2135,"color":"#8f8f8f"},{"offset":0.22,"color":"#8f8f8f"},
      {"offset":0.22,"color":"#d9d9d9"},{"offset":0.2235,"color":"#d9d9d9"},{"offset":0.2235,"color":"#8f8f8f"},{"offset":0.23,"color":"#8f8f8f"},
      {"offset":0.23,"color":"#d9d9d9"},{"offset":0.2335,"color":"#d9d9d9"},{"offset":0.2335,"color":"#8f8f8f"},{"offset":0.24,"color":"#8f8f8f"},
      {"offset":0.24,"color":"#d9d9d9"},{"offset":0.2435,"color":"#d9d9d9"},{"offset":0.2435,"color":"#8f8f8f"},{"offset":0.25,"color":"#8f8f8f"},
      {"offset":0.25,"color":"#d9d9d9"},{"offset":0.2535,"color":"#d9d9d9"},{"offset":0.2535,"color":"#8f8f8f"},{"offset":0.26,"color":"#8f8f8f"},
      {"offset":0.26,"color":"#d9d9d9"},{"offset":0.2635,"color":"#d9d9d9"},{"offset":0.2635,"color":"#8f8f8f"},{"offset":0.27,"color":"#8f8f8f"},
      {"offset":0.27,"color":"#d9d9d9"},{"offset":0.2735,"color":"#d9d9d9"},{"offset":0.2735,"color":"#8f8f8f"},{"offset":0.28,"color":"#8f8f8f"},
      {"offset":0.28,"color":"#d9d9d9"},{"offset":0.2835,"color":"#d9d9d9"},{"offset":0.2835,"color":"#8f8f8f"},{"offset":0.29,"color":"#8f8f8f"},
      {"offset":0.29,"color":"#d9d9d9"},{"offset":0.2935,"color":"#d9d9d9"},{"offset":0.2935,"color":"#8f8f8f"},{"offset":0.3,"color":"#8f8f8f"},
      {"offset":0.3,"color":"#d9d9d9"},{"offset":0.3035,"color":"#d9d9d9"},{"offset":0.3035,"color":"#8f8f8f"},{"offset":0.31,"color":"#8f8f8f"},
      {"offset":0.31,"color":"#d9d9d9"},{"offset":0.3135,"color":"#d9d9d9"},{"offset":0.3135,"color":"#8f8f8f"},{"offset":0.32,"color":"#8f8f8f"},
      {"offset":0.32,"color":"#d9d9d9"},{"offset":0.3235,"color":"#d9d9d9"},{"offset":0.3235,"color":"#8f8f8f"},{"offset":0.33,"color":"#8f8f8f"},
      {"offset":0.33,"color":"#d9d9d9"},{"offset":0.3335,"color":"#d9d9d9"},{"offset":0.3335,"color":"#8f8f8f"},{"offset":0.34,"color":"#8f8f8f"},
      {"offset":0.34,"color":"#d9d9d9"},{"offset":0.3435,"color":"#d9d9d9"},{"offset":0.3435,"color":"#8f8f8f"},{"offset":0.35,"color":"#8f8f8f"},
      {"offset":0.35,"color":"#d9d9d9"},{"offset":0.3535,"color":"#d9d9d9"},{"offset":0.3535,"color":"#8f8f8f"},{"offset":0.36,"color":"#8f8f8f"},
      {"offset":0.36,"color":"#d9d9d9"},{"offset":0.3635,"color":"#d9d9d9"},{"offset":0.3635,"color":"#8f8f8f"},{"offset":0.37,"color":"#8f8f8f"},
      {"offset":0.37,"color":"#d9d9d9"},{"offset":0.3735,"color":"#d9d9d9"},{"offset":0.3735,"color":"#8f8f8f"},{"offset":0.38,"color":"#8f8f8f"},
      {"offset":0.38,"color":"#d9d9d9"},{"offset":0.3835,"color":"#d9d9d9"},{"offset":0.3835,"color":"#8f8f8f"},{"offset":0.39,"color":"#8f8f8f"},
      {"offset":0.39,"color":"#d9d9d9"},{"offset":0.3935,"color":"#d9d9d9"},{"offset":0.3935,"color":"#8f8f8f"},{"offset":0.4,"color":"#8f8f8f"},
      {"offset":0.4,"color":"#d9d9d9"},{"offset":0.4035,"color":"#d9d9d9"},{"offset":0.4035,"color":"#8f8f8f"},{"offset":0.41,"color":"#8f8f8f"},
      {"offset":0.41,"color":"#d9d9d9"},{"offset":0.4135,"color":"#d9d9d9"},{"offset":0.4135,"color":"#8f8f8f"},{"offset":0.42,"color":"#8f8f8f"},
      {"offset":0.42,"color":"#d9d9d9"},{"offset":0.4235,"color":"#d9d9d9"},{"offset":0.4235,"color":"#8f8f8f"},{"offset":0.43,"color":"#8f8f8f"},
      {"offset":0.43,"color":"#d9d9d9"},{"offset":0.4335,"color":"#d9d9d9"},{"offset":0.4335,"color":"#8f8f8f"},{"offset":0.44,"color":"#8f8f8f"},
      {"offset":0.44,"color":"#d9d9d9"},{"offset":0.4435,"color":"#d9d9d9"},{"offset":0.4435,"color":"#8f8f8f"},{"offset":0.45,"color":"#8f8f8f"},
      {"offset":0.45,"color":"#d9d9d9"},{"offset":0.4535,"color":"#d9d9d9"},{"offset":0.4535,"color":"#8f8f8f"},{"offset":0.46,"color":"#8f8f8f"},
      {"offset":0.46,"color":"#d9d9d9"},{"offset":0.4635,"color":"#d9d9d9"},{"offset":0.4635,"color":"#8f8f8f"},{"offset":0.47,"color":"#8f8f8f"},
      {"offset":0.47,"color":"#d9d9d9"},{"offset":0.4735,"color":"#d9d9d9"},{"offset":0.4735,"color":"#8f8f8f"},{"offset":0.48,"color":"#8f8f8f"},
      {"offset":0.48,"color":"#d9d9d9"},{"offset":0.4835,"color":"#d9d9d9"},{"offset":0.4835,"color":"#8f8f8f"},{"offset":0.49,"color":"#8f8f8f"},
      {"offset":0.49,"color":"#d9d9d9"},{"offset":0.4935,"color":"#d9d9d9"},{"offset":0.4935,"color":"#8f8f8f"},{"offset":0.5,"color":"#8f8f8f"},
      {"offset":0.5,"color":"#d9d9d9"},{"offset":0.5035,"color":"#d9d9d9"},{"offset":0.5035,"color":"#8f8f8f"},{"offset":0.51,"color":"#8f8f8f"},
      {"offset":0.51,"color":"#d9d9d9"},{"offset":0.5135,"color":"#d9d9d9"},{"offset":0.5135,"color":"#8f8f8f"},{"offset":0.52,"color":"#8f8f8f"},
      {"offset":0.52,"color":"#d9d9d9"},{"offset":0.5235,"color":"#d9d9d9"},{"offset":0.5235,"color":"#8f8f8f"},{"offset":0.53,"color":"#8f8f8f"},
      {"offset":0.53,"color":"#d9d9d9"},{"offset":0.5335,"color":"#d9d9d9"},{"offset":0.5335,"color":"#8f8f8f"},{"offset":0.54,"color":"#8f8f8f"},
      {"offset":0.54,"color":"#d9d9d9"},{"offset":0.5435,"color":"#d9d9d9"},{"offset":0.5435,"color":"#8f8f8f"},{"offset":0.55,"color":"#8f8f8f"},
      {"offset":0.55,"color":"#d9d9d9"},{"offset":0.5535,"color":"#d9d9d9"},{"offset":0.5535,"color":"#8f8f8f"},{"offset":0.56,"color":"#8f8f8f"},
      {"offset":0.56,"color":"#d9d9d9"},{"offset":0.5635,"color":"#d9d9d9"},{"offset":0.5635,"color":"#8f8f8f"},{"offset":0.57,"color":"#8f8f8f"},
      {"offset":0.57,"color":"#d9d9d9"},{"offset":0.5735,"color":"#d9d9d9"},{"offset":0.5735,"color":"#8f8f8f"},{"offset":0.58,"color":"#8f8f8f"},
      {"offset":0.58,"color":"#d9d9d9"},{"offset":0.5835,"color":"#d9d9d9"},{"offset":0.5835,"color":"#8f8f8f"},{"offset":0.59,"color":"#8f8f8f"},
      {"offset":0.59,"color":"#d9d9d9"},{"offset":0.5935,"color":"#d9d9d9"},{"offset":0.5935,"color":"#8f8f8f"},{"offset":0.6,"color":"#8f8f8f"},
      {"offset":0.6,"color":"#d9d9d9"},{"offset":0.6035,"color":"#d9d9d9"},{"offset":0.6035,"color":"#8f8f8f"},{"offset":0.61,"color":"#8f8f8f"},
      {"offset":0.61,"color":"#d9d9d9"},{"offset":0.6135,"color":"#d9d9d9"},{"offset":0.6135,"color":"#8f8f8f"},{"offset":0.62,"color":"#8f8f8f"},
      {"offset":0.62,"color":"#d9d9d9"},{"offset":0.6235,"color":"#d9d9d9"},{"offset":0.6235,"color":"#8f8f8f"},{"offset":0.63,"color":"#8f8f8f"},
      {"offset":0.63,"color":"#d9d9d9"},{"offset":0.6335,"color":"#d9d9d9"},{"offset":0.6335,"color":"#8f8f8f"},{"offset":0.64,"color":"#8f8f8f"},
      {"offset":0.64,"color":"#d9d9d9"},{"offset":0.6435,"color":"#d9d9d9"},{"offset":0.6435,"color":"#8f8f8f"},{"offset":0.65,"color":"#8f8f8f"},
      {"offset":0.65,"color":"#d9d9d9"},{"offset":0.6535,"color":"#d9d9d9"},{"offset":0.6535,"color":"#8f8f8f"},{"offset":0.66,"color":"#8f8f8f"},
      {"offset":0.66,"color":"#d9d9d9"},{"offset":0.6635,"color":"#d9d9d9"},{"offset":0.6635,"color":"#8f8f8f"},{"offset":0.67,"color":"#8f8f8f"},
      {"offset":0.67,"color":"#d9d9d9"},{"offset":0.6735,"color":"#d9d9d9"},{"offset":0.6735,"color":"#8f8f8f"},{"offset":0.68,"color":"#8f8f8f"},
      {"offset":0.68,"color":"#d9d9d9"},{"offset":0.6835,"color":"#d9d9d9"},{"offset":0.6835,"color":"#8f8f8f"},{"offset":0.69,"color":"#8f8f8f"},
      {"offset":0.69,"color":"#d9d9d9"},{"offset":0.6935,"color":"#d9d9d9"},{"offset":0.6935,"color":"#8f8f8f"},{"offset":0.7,"color":"#8f8f8f"},
      {"offset":0.7,"color":"#d9d9d9"},{"offset":0.7035,"color":"#d9d9d9"},{"offset":0.7035,"color":"#8f8f8f"},{"offset":0.71,"color":"#8f8f8f"},
      {"offset":0.71,"color":"#d9d9d9"},{"offset":0.7135,"color":"#d9d9d9"},{"offset":0.7135,"color":"#8f8f8f"},{"offset":0.72,"color":"#8f8f8f"},
      {"offset":0.72,"color":"#d9d9d9"},{"offset":0.7235,"color":"#d9d9d9"},{"offset":0.7235,"color":"#8f8f8f"},{"offset":0.73,"color":"#8f8f8f"},
      {"offset":0.73,"color":"#d9d9d9"},{"offset":0.7335,"color":"#d9d9d9"},{"offset":0.7335,"color":"#8f8f8f"},{"offset":0.74,"color":"#8f8f8f"},
      {"offset":0.74,"color":"#d9d9d9"},{"offset":0.7435,"color":"#d9d9d9"},{"offset":0.7435,"color":"#8f8f8f"},{"offset":0.75,"color":"#8f8f8f"},
      {"offset":0.75,"color":"#d9d9d9"},{"offset":0.7535,"color":"#d9d9d9"},{"offset":0.7535,"color":"#8f8f8f"},{"offset":0.76,"color":"#8f8f8f"},
      {"offset":0.76,"color":"#d9d9d9"},{"offset":0.7635,"color":"#d9d9d9"},{"offset":0.7635,"color":"#8f8f8f"},{"offset":0.77,"color":"#8f8f8f"},
      {"offset":0.77,"color":"#d9d9d9"},{"offset":0.7735,"color":"#d9d9d9"},{"offset":0.7735,"color":"#8f8f8f"},{"offset":0.78,"color":"#8f8f8f"},
      {"offset":0.78,"color":"#d9d9d9"},{"offset":0.7835,"color":"#d9d9d9"},{"offset":0.7835,"color":"#8f8f8f"},{"offset":0.79,"color":"#8f8f8f"},
      {"offset":0.79,"color":"#d9d9d9"},{"offset":0.7935,"color":"#d9d9d9"},{"offset":0.7935,"color":"#8f8f8f"},{"offset":0.8,"color":"#8f8f8f"},
      {"offset":0.8,"color":"#d9d9d9"},{"offset":0.8035,"color":"#d9d9d9"},{"offset":0.8035,"color":"#8f8f8f"},{"offset":0.81,"color":"#8f8f8f"},
      {"offset":0.81,"color":"#d9d9d9"},{"offset":0.8135,"color":"#d9d9d9"},{"offset":0.8135,"color":"#8f8f8f"},{"offset":0.82,"color":"#8f8f8f"},
      {"offset":0.82,"color":"#d9d9d9"},{"offset":0.8235,"color":"#d9d9d9"},{"offset":0.8235,"color":"#8f8f8f"},{"offset":0.83,"color":"#8f8f8f"},
      {"offset":0.83,"color":"#d9d9d9"},{"offset":0.8335,"color":"#d9d9d9"},{"offset":0.8335,"color":"#8f8f8f"},{"offset":0.84,"color":"#8f8f8f"},
      {"offset":0.84,"color":"#d9d9d9"},{"offset":0.8435,"color":"#d9d9d9"},{"offset":0.8435,"color":"#8f8f8f"},{"offset":0.85,"color":"#8f8f8f"},
      {"offset":0.85,"color":"#d9d9d9"},{"offset":0.8535,"color":"#d9d9d9"},{"offset":0.8535,"color":"#8f8f8f"},{"offset":0.86,"color":"#8f8f8f"},
      {"offset":0.86,"color":"#d9d9d9"},{"offset":0.8635,"color":"#d9d9d9"},{"offset":0.8635,"color":"#8f8f8f"},{"offset":0.87,"color":"#8f8f8f"},
      {"offset":0.87,"color":"#d9d9d9"},{"offset":0.8735,"color":"#d9d9d9"},{"offset":0.8735,"color":"#8f8f8f"},{"offset":0.88,"color":"#8f8f8f"},
      {"offset":0.88,"color":"#d9d9d9"},{"offset":0.8835,"color":"#d9d9d9"},{"offset":0.8835,"color":"#8f8f8f"},{"offset":0.89,"color":"#8f8f8f"},
      {"offset":0.89,"color":"#d9d9d9"},{"offset":0.8935,"color":"#d9d9d9"},{"offset":0.8935,"color":"#8f8f8f"},{"offset":0.9,"color":"#8f8f8f"},
      {"offset":0.9,"color":"#d9d9d9"},{"offset":0.9035,"color":"#d9d9d9"},{"offset":0.9035,"color":"#8f8f8f"},{"offset":0.91,"color":"#8f8f8f"},
      {"offset":0.91,"color":"#d9d9d9"},{"offset":0.9135,"color":"#d9d9d9"},{"offset":0.9135,"color":"#8f8f8f"},{"offset":0.92,"color":"#8f8f8f"},
      {"offset":0.92,"color":"#d9d9d9"},{"offset":0.9235,"color":"#d9d9d9"},{"offset":0.9235,"color":"#8f8f8f"},{"offset":0.93,"color":"#8f8f8f"},
      {"offset":0.93,"color":"#d9d9d9"},{"offset":0.9335,"color":"#d9d9d9"},{"offset":0.9335,"color":"#8f8f8f"},{"offset":0.94,"color":"#8f8f8f"},
      {"offset":0.94,"color":"#d9d9d9"},{"offset":0.9435,"color":"#d9d9d9"},{"offset":0.9435,"color":"#8f8f8f"},{"offset":0.95,"color":"#8f8f8f"},
      {"offset":0.95,"color":"#d9d9d9"},{"offset":0.9535,"color":"#d9d9d9"},{"offset":0.9535,"color":"#8f8f8f"},{"offset":0.96,"color":"#8f8f8f"},
      {"offset":0.96,"color":"#d9d9d9"},{"offset":0.9635,"color":"#d9d9d9"},{"offset":0.9635,"color":"#8f8f8f"},{"offset":0.97,"color":"#8f8f8f"},
      {"offset":0.97,"color":"#d9d9d9"},{"offset":0.9735,"color":"#d9d9d9"},{"offset":0.9735,"color":"#8f8f8f"},{"offset":0.98,"color":"#8f8f8f"},
      {"offset":0.98,"color":"#d9d9d9"},{"offset":0.9835,"color":"#d9d9d9"},{"offset":0.9835,"color":"#8f8f8f"},{"offset":0.99,"color":"#8f8f8f"},
      {"offset":0.99,"color":"#d9d9d9"},{"offset":0.9935,"color":"#d9d9d9"},{"offset":0.9935,"color":"#8f8f8f"},{"offset":1,"color":"#8f8f8f"}
    ]}}},
    {"transform": [{"filter": "datum.key === 'L08'"}], "mark": {"type": "area", "blend": "darken", "strokeWidth": 0, "fill": {"gradient": "linear", "x1": 0, "y1": 0, "x2": 0, "y2": 1, "stops": [
      {"offset":0,"color":"#d9d9d9"},{"offset":0.014,"color":"#d9d9d9"},{"offset":0.014,"color":"#8f8f8f"},{"offset":0.04,"color":"#8f8f8f"},
      {"offset":0.04,"color":"#d9d9d9"},{"offset":0.054,"color":"#d9d9d9"},{"offset":0.054,"color":"#8f8f8f"},{"offset":0.08,"color":"#8f8f8f"},
      {"offset":0.08,"color":"#d9d9d9"},{"offset":0.094,"color":"#d9d9d9"},{"offset":0.094,"color":"#8f8f8f"},{"offset":0.12,"color":"#8f8f8f"},
      {"offset":0.12,"color":"#d9d9d9"},{"offset":0.134,"color":"#d9d9d9"},{"offset":0.134,"color":"#8f8f8f"},{"offset":0.16,"color":"#8f8f8f"},
      {"offset":0.16,"color":"#d9d9d9"},{"offset":0.174,"color":"#d9d9d9"},{"offset":0.174,"color":"#8f8f8f"},{"offset":0.2,"color":"#8f8f8f"},
      {"offset":0.2,"color":"#d9d9d9"},{"offset":0.214,"color":"#d9d9d9"},{"offset":0.214,"color":"#8f8f8f"},{"offset":0.24,"color":"#8f8f8f"},
      {"offset":0.24,"color":"#d9d9d9"},{"offset":0.254,"color":"#d9d9d9"},{"offset":0.254,"color":"#8f8f8f"},{"offset":0.28,"color":"#8f8f8f"},
      {"offset":0.28,"color":"#d9d9d9"},{"offset":0.294,"color":"#d9d9d9"},{"offset":0.294,"color":"#8f8f8f"},{"offset":0.32,"color":"#8f8f8f"},
      {"offset":0.32,"color":"#d9d9d9"},{"offset":0.334,"color":"#d9d9d9"},{"offset":0.334,"color":"#8f8f8f"},{"offset":0.36,"color":"#8f8f8f"},
      {"offset":0.36,"color":"#d9d9d9"},{"offset":0.374,"color":"#d9d9d9"},{"offset":0.374,"color":"#8f8f8f"},{"offset":0.4,"color":"#8f8f8f"},
      {"offset":0.4,"color":"#d9d9d9"},{"offset":0.414,"color":"#d9d9d9"},{"offset":0.414,"color":"#8f8f8f"},{"offset":0.44,"color":"#8f8f8f"},
      {"offset":0.44,"color":"#d9d9d9"},{"offset":0.454,"color":"#d9d9d9"},{"offset":0.454,"color":"#8f8f8f"},{"offset":0.48,"color":"#8f8f8f"},
      {"offset":0.48,"color":"#d9d9d9"},{"offset":0.494,"color":"#d9d9d9"},{"offset":0.494,"color":"#8f8f8f"},{"offset":0.52,"color":"#8f8f8f"},
      {"offset":0.52,"color":"#d9d9d9"},{"offset":0.534,"color":"#d9d9d9"},{"offset":0.534,"color":"#8f8f8f"},{"offset":0.56,"color":"#8f8f8f"},
      {"offset":0.56,"color":"#d9d9d9"},{"offset":0.574,"color":"#d9d9d9"},{"offset":0.574,"color":"#8f8f8f"},{"offset":0.6,"color":"#8f8f8f"},
      {"offset":0.6,"color":"#d9d9d9"},{"offset":0.614,"color":"#d9d9d9"},{"offset":0.614,"color":"#8f8f8f"},{"offset":0.64,"color":"#8f8f8f"},
      {"offset":0.64,"color":"#d9d9d9"},{"offset":0.654,"color":"#d9d9d9"},{"offset":0.654,"color":"#8f8f8f"},{"offset":0.68,"color":"#8f8f8f"},
      {"offset":0.68,"color":"#d9d9d9"},{"offset":0.694,"color":"#d9d9d9"},{"offset":0.694,"color":"#8f8f8f"},{"offset":0.72,"color":"#8f8f8f"},
      {"offset":0.72,"color":"#d9d9d9"},{"offset":0.734,"color":"#d9d9d9"},{"offset":0.734,"color":"#8f8f8f"},{"offset":0.76,"color":"#8f8f8f"},
      {"offset":0.76,"color":"#d9d9d9"},{"offset":0.774,"color":"#d9d9d9"},{"offset":0.774,"color":"#8f8f8f"},{"offset":0.8,"color":"#8f8f8f"},
      {"offset":0.8,"color":"#d9d9d9"},{"offset":0.814,"color":"#d9d9d9"},{"offset":0.814,"color":"#8f8f8f"},{"offset":0.84,"color":"#8f8f8f"},
      {"offset":0.84,"color":"#d9d9d9"},{"offset":0.854,"color":"#d9d9d9"},{"offset":0.854,"color":"#8f8f8f"},{"offset":0.88,"color":"#8f8f8f"},
      {"offset":0.88,"color":"#d9d9d9"},{"offset":0.894,"color":"#d9d9d9"},{"offset":0.894,"color":"#8f8f8f"},{"offset":0.92,"color":"#8f8f8f"},
      {"offset":0.92,"color":"#d9d9d9"},{"offset":0.934,"color":"#d9d9d9"},{"offset":0.934,"color":"#8f8f8f"},{"offset":0.96,"color":"#8f8f8f"},
      {"offset":0.96,"color":"#d9d9d9"},{"offset":0.974,"color":"#d9d9d9"},{"offset":0.974,"color":"#8f8f8f"},{"offset":1,"color":"#8f8f8f"}
    ]}}},
    {"transform": [{"filter": "datum.key === 'L09'"}], "mark": {"type": "area", "stroke": "#111", "strokeWidth": 0.9, "fill": {"gradient": "linear", "x1": 0, "y1": 0, "x2": 1, "y2": 0, "stops": [
      {"offset": 0, "color": "#d9d9d9"}, {"offset": 0.005, "color": "#d9d9d9"}, {"offset": 0.005, "color": "#969696"}, {"offset": 0.01, "color": "#969696"},
      {"offset": 0.01, "color": "#d9d9d9"}, {"offset": 0.015, "color": "#d9d9d9"}, {"offset": 0.015, "color": "#969696"}, {"offset": 0.02, "color": "#969696"},
      {"offset": 0.02, "color": "#d9d9d9"}, {"offset": 0.025, "color": "#d9d9d9"}, {"offset": 0.025, "color": "#969696"}, {"offset": 0.03, "color": "#969696"},
      {"offset": 0.03, "color": "#d9d9d9"}, {"offset": 0.035, "color": "#d9d9d9"}, {"offset": 0.035, "color": "#969696"}, {"offset": 0.04, "color": "#969696"},
      {"offset": 0.04, "color": "#d9d9d9"}, {"offset": 0.045, "color": "#d9d9d9"}, {"offset": 0.045, "color": "#969696"}, {"offset": 0.05, "color": "#969696"},
      {"offset": 0.05, "color": "#d9d9d9"}, {"offset": 0.055, "color": "#d9d9d9"}, {"offset": 0.055, "color": "#969696"}, {"offset": 0.06, "color": "#969696"},
      {"offset": 0.06, "color": "#d9d9d9"}, {"offset": 0.065, "color": "#d9d9d9"}, {"offset": 0.065, "color": "#969696"}, {"offset": 0.07, "color": "#969696"},
      {"offset": 0.07, "color": "#d9d9d9"}, {"offset": 0.075, "color": "#d9d9d9"}, {"offset": 0.075, "color": "#969696"}, {"offset": 0.08, "color": "#969696"},
      {"offset": 0.08, "color": "#d9d9d9"}, {"offset": 0.085, "color": "#d9d9d9"}, {"offset": 0.085, "color": "#969696"}, {"offset": 0.09, "color": "#969696"},
      {"offset": 0.09, "color": "#d9d9d9"}, {"offset": 0.095, "color": "#d9d9d9"}, {"offset": 0.095, "color": "#969696"}, {"offset": 0.1, "color": "#969696"},
      {"offset": 0.1, "color": "#d9d9d9"}, {"offset": 0.105, "color": "#d9d9d9"}, {"offset": 0.105, "color": "#969696"}, {"offset": 0.11, "color": "#969696"},
      {"offset": 0.11, "color": "#d9d9d9"}, {"offset": 0.115, "color": "#d9d9d9"}, {"offset": 0.115, "color": "#969696"}, {"offset": 0.12, "color": "#969696"},
      {"offset": 0.12, "color": "#d9d9d9"}, {"offset": 0.125, "color": "#d9d9d9"}, {"offset": 0.125, "color": "#969696"}, {"offset": 0.13, "color": "#969696"},
      {"offset": 0.13, "color": "#d9d9d9"}, {"offset": 0.135, "color": "#d9d9d9"}, {"offset": 0.135, "color": "#969696"}, {"offset": 0.14, "color": "#969696"},
      {"offset": 0.14, "color": "#d9d9d9"}, {"offset": 0.145, "color": "#d9d9d9"}, {"offset": 0.145, "color": "#969696"}, {"offset": 0.15, "color": "#969696"},
      {"offset": 0.15, "color": "#d9d9d9"}, {"offset": 0.155, "color": "#d9d9d9"}, {"offset": 0.155, "color": "#969696"}, {"offset": 0.16, "color": "#969696"},
      {"offset": 0.16, "color": "#d9d9d9"}, {"offset": 0.165, "color": "#d9d9d9"}, {"offset": 0.165, "color": "#969696"}, {"offset": 0.17, "color": "#969696"},
      {"offset": 0.17, "color": "#d9d9d9"}, {"offset": 0.175, "color": "#d9d9d9"}, {"offset": 0.175, "color": "#969696"}, {"offset": 0.18, "color": "#969696"},
      {"offset": 0.18, "color": "#d9d9d9"}, {"offset": 0.185, "color": "#d9d9d9"}, {"offset": 0.185, "color": "#969696"}, {"offset": 0.19, "color": "#969696"},
      {"offset": 0.19, "color": "#d9d9d9"}, {"offset": 0.195, "color": "#d9d9d9"}, {"offset": 0.195, "color": "#969696"}, {"offset": 0.2, "color": "#969696"},
      {"offset": 0.2, "color": "#d9d9d9"}, {"offset": 0.205, "color": "#d9d9d9"}, {"offset": 0.205, "color": "#969696"}, {"offset": 0.21, "color": "#969696"},
      {"offset": 0.21, "color": "#d9d9d9"}, {"offset": 0.215, "color": "#d9d9d9"}, {"offset": 0.215, "color": "#969696"}, {"offset": 0.22, "color": "#969696"},
      {"offset": 0.22, "color": "#d9d9d9"}, {"offset": 0.225, "color": "#d9d9d9"}, {"offset": 0.225, "color": "#969696"}, {"offset": 0.23, "color": "#969696"},
      {"offset": 0.23, "color": "#d9d9d9"}, {"offset": 0.235, "color": "#d9d9d9"}, {"offset": 0.235, "color": "#969696"}, {"offset": 0.24, "color": "#969696"},
      {"offset": 0.24, "color": "#d9d9d9"}, {"offset": 0.245, "color": "#d9d9d9"}, {"offset": 0.245, "color": "#969696"}, {"offset": 0.25, "color": "#969696"},
      {"offset": 0.25, "color": "#d9d9d9"}, {"offset": 0.255, "color": "#d9d9d9"}, {"offset": 0.255, "color": "#969696"}, {"offset": 0.26, "color": "#969696"},
      {"offset": 0.26, "color": "#d9d9d9"}, {"offset": 0.265, "color": "#d9d9d9"}, {"offset": 0.265, "color": "#969696"}, {"offset": 0.27, "color": "#969696"},
      {"offset": 0.27, "color": "#d9d9d9"}, {"offset": 0.275, "color": "#d9d9d9"}, {"offset": 0.275, "color": "#969696"}, {"offset": 0.28, "color": "#969696"},
      {"offset": 0.28, "color": "#d9d9d9"}, {"offset": 0.285, "color": "#d9d9d9"}, {"offset": 0.285, "color": "#969696"}, {"offset": 0.29, "color": "#969696"},
      {"offset": 0.29, "color": "#d9d9d9"}, {"offset": 0.295, "color": "#d9d9d9"}, {"offset": 0.295, "color": "#969696"}, {"offset": 0.3, "color": "#969696"},
      {"offset": 0.3, "color": "#d9d9d9"}, {"offset": 0.305, "color": "#d9d9d9"}, {"offset": 0.305, "color": "#969696"}, {"offset": 0.31, "color": "#969696"},
      {"offset": 0.31, "color": "#d9d9d9"}, {"offset": 0.315, "color": "#d9d9d9"}, {"offset": 0.315, "color": "#969696"}, {"offset": 0.32, "color": "#969696"},
      {"offset": 0.32, "color": "#d9d9d9"}, {"offset": 0.325, "color": "#d9d9d9"}, {"offset": 0.325, "color": "#969696"}, {"offset": 0.33, "color": "#969696"},
      {"offset": 0.33, "color": "#d9d9d9"}, {"offset": 0.335, "color": "#d9d9d9"}, {"offset": 0.335, "color": "#969696"}, {"offset": 0.34, "color": "#969696"},
      {"offset": 0.34, "color": "#d9d9d9"}, {"offset": 0.345, "color": "#d9d9d9"}, {"offset": 0.345, "color": "#969696"}, {"offset": 0.35, "color": "#969696"},
      {"offset": 0.35, "color": "#d9d9d9"}, {"offset": 0.355, "color": "#d9d9d9"}, {"offset": 0.355, "color": "#969696"}, {"offset": 0.36, "color": "#969696"},
      {"offset": 0.36, "color": "#d9d9d9"}, {"offset": 0.365, "color": "#d9d9d9"}, {"offset": 0.365, "color": "#969696"}, {"offset": 0.37, "color": "#969696"},
      {"offset": 0.37, "color": "#d9d9d9"}, {"offset": 0.375, "color": "#d9d9d9"}, {"offset": 0.375, "color": "#969696"}, {"offset": 0.38, "color": "#969696"},
      {"offset": 0.38, "color": "#d9d9d9"}, {"offset": 0.385, "color": "#d9d9d9"}, {"offset": 0.385, "color": "#969696"}, {"offset": 0.39, "color": "#969696"},
      {"offset": 0.39, "color": "#d9d9d9"}, {"offset": 0.395, "color": "#d9d9d9"}, {"offset": 0.395, "color": "#969696"}, {"offset": 0.4, "color": "#969696"},
      {"offset": 0.4, "color": "#d9d9d9"}, {"offset": 0.405, "color": "#d9d9d9"}, {"offset": 0.405, "color": "#969696"}, {"offset": 0.41, "color": "#969696"},
      {"offset": 0.41, "color": "#d9d9d9"}, {"offset": 0.415, "color": "#d9d9d9"}, {"offset": 0.415, "color": "#969696"}, {"offset": 0.42, "color": "#969696"},
      {"offset": 0.42, "color": "#d9d9d9"}, {"offset": 0.425, "color": "#d9d9d9"}, {"offset": 0.425, "color": "#969696"}, {"offset": 0.43, "color": "#969696"},
      {"offset": 0.43, "color": "#d9d9d9"}, {"offset": 0.435, "color": "#d9d9d9"}, {"offset": 0.435, "color": "#969696"}, {"offset": 0.44, "color": "#969696"},
      {"offset": 0.44, "color": "#d9d9d9"}, {"offset": 0.445, "color": "#d9d9d9"}, {"offset": 0.445, "color": "#969696"}, {"offset": 0.45, "color": "#969696"},
      {"offset": 0.45, "color": "#d9d9d9"}, {"offset": 0.455, "color": "#d9d9d9"}, {"offset": 0.455, "color": "#969696"}, {"offset": 0.46, "color": "#969696"},
      {"offset": 0.46, "color": "#d9d9d9"}, {"offset": 0.465, "color": "#d9d9d9"}, {"offset": 0.465, "color": "#969696"}, {"offset": 0.47, "color": "#969696"},
      {"offset": 0.47, "color": "#d9d9d9"}, {"offset": 0.475, "color": "#d9d9d9"}, {"offset": 0.475, "color": "#969696"}, {"offset": 0.48, "color": "#969696"},
      {"offset": 0.48, "color": "#d9d9d9"}, {"offset": 0.485, "color": "#d9d9d9"}, {"offset": 0.485, "color": "#969696"}, {"offset": 0.49, "color": "#969696"},
      {"offset": 0.49, "color": "#d9d9d9"}, {"offset": 0.495, "color": "#d9d9d9"}, {"offset": 0.495, "color": "#969696"}, {"offset": 0.5, "color": "#969696"},
      {"offset": 0.5, "color": "#d9d9d9"}, {"offset": 0.505, "color": "#d9d9d9"}, {"offset": 0.505, "color": "#969696"}, {"offset": 0.51, "color": "#969696"},
      {"offset": 0.51, "color": "#d9d9d9"}, {"offset": 0.515, "color": "#d9d9d9"}, {"offset": 0.515, "color": "#969696"}, {"offset": 0.52, "color": "#969696"},
      {"offset": 0.52, "color": "#d9d9d9"}, {"offset": 0.525, "color": "#d9d9d9"}, {"offset": 0.525, "color": "#969696"}, {"offset": 0.53, "color": "#969696"},
      {"offset": 0.53, "color": "#d9d9d9"}, {"offset": 0.535, "color": "#d9d9d9"}, {"offset": 0.535, "color": "#969696"}, {"offset": 0.54, "color": "#969696"},
      {"offset": 0.54, "color": "#d9d9d9"}, {"offset": 0.545, "color": "#d9d9d9"}, {"offset": 0.545, "color": "#969696"}, {"offset": 0.55, "color": "#969696"},
      {"offset": 0.55, "color": "#d9d9d9"}, {"offset": 0.555, "color": "#d9d9d9"}, {"offset": 0.555, "color": "#969696"}, {"offset": 0.56, "color": "#969696"},
      {"offset": 0.56, "color": "#d9d9d9"}, {"offset": 0.565, "color": "#d9d9d9"}, {"offset": 0.565, "color": "#969696"}, {"offset": 0.57, "color": "#969696"},
      {"offset": 0.57, "color": "#d9d9d9"}, {"offset": 0.575, "color": "#d9d9d9"}, {"offset": 0.575, "color": "#969696"}, {"offset": 0.58, "color": "#969696"},
      {"offset": 0.58, "color": "#d9d9d9"}, {"offset": 0.585, "color": "#d9d9d9"}, {"offset": 0.585, "color": "#969696"}, {"offset": 0.59, "color": "#969696"},
      {"offset": 0.59, "color": "#d9d9d9"}, {"offset": 0.595, "color": "#d9d9d9"}, {"offset": 0.595, "color": "#969696"}, {"offset": 0.6, "color": "#969696"},
      {"offset": 0.6, "color": "#d9d9d9"}, {"offset": 0.605, "color": "#d9d9d9"}, {"offset": 0.605, "color": "#969696"}, {"offset": 0.61, "color": "#969696"},
      {"offset": 0.61, "color": "#d9d9d9"}, {"offset": 0.615, "color": "#d9d9d9"}, {"offset": 0.615, "color": "#969696"}, {"offset": 0.62, "color": "#969696"},
      {"offset": 0.62, "color": "#d9d9d9"}, {"offset": 0.625, "color": "#d9d9d9"}, {"offset": 0.625, "color": "#969696"}, {"offset": 0.63, "color": "#969696"},
      {"offset": 0.63, "color": "#d9d9d9"}, {"offset": 0.635, "color": "#d9d9d9"}, {"offset": 0.635, "color": "#969696"}, {"offset": 0.64, "color": "#969696"},
      {"offset": 0.64, "color": "#d9d9d9"}, {"offset": 0.645, "color": "#d9d9d9"}, {"offset": 0.645, "color": "#969696"}, {"offset": 0.65, "color": "#969696"},
      {"offset": 0.65, "color": "#d9d9d9"}, {"offset": 0.655, "color": "#d9d9d9"}, {"offset": 0.655, "color": "#969696"}, {"offset": 0.66, "color": "#969696"},
      {"offset": 0.66, "color": "#d9d9d9"}, {"offset": 0.665, "color": "#d9d9d9"}, {"offset": 0.665, "color": "#969696"}, {"offset": 0.67, "color": "#969696"},
      {"offset": 0.67, "color": "#d9d9d9"}, {"offset": 0.675, "color": "#d9d9d9"}, {"offset": 0.675, "color": "#969696"}, {"offset": 0.68, "color": "#969696"},
      {"offset": 0.68, "color": "#d9d9d9"}, {"offset": 0.685, "color": "#d9d9d9"}, {"offset": 0.685, "color": "#969696"}, {"offset": 0.69, "color": "#969696"},
      {"offset": 0.69, "color": "#d9d9d9"}, {"offset": 0.695, "color": "#d9d9d9"}, {"offset": 0.695, "color": "#969696"}, {"offset": 0.7, "color": "#969696"},
      {"offset": 0.7, "color": "#d9d9d9"}, {"offset": 0.705, "color": "#d9d9d9"}, {"offset": 0.705, "color": "#969696"}, {"offset": 0.71, "color": "#969696"},
      {"offset": 0.71, "color": "#d9d9d9"}, {"offset": 0.715, "color": "#d9d9d9"}, {"offset": 0.715, "color": "#969696"}, {"offset": 0.72, "color": "#969696"},
      {"offset": 0.72, "color": "#d9d9d9"}, {"offset": 0.725, "color": "#d9d9d9"}, {"offset": 0.725, "color": "#969696"}, {"offset": 0.73, "color": "#969696"},
      {"offset": 0.73, "color": "#d9d9d9"}, {"offset": 0.735, "color": "#d9d9d9"}, {"offset": 0.735, "color": "#969696"}, {"offset": 0.74, "color": "#969696"},
      {"offset": 0.74, "color": "#d9d9d9"}, {"offset": 0.745, "color": "#d9d9d9"}, {"offset": 0.745, "color": "#969696"}, {"offset": 0.75, "color": "#969696"},
      {"offset": 0.75, "color": "#d9d9d9"}, {"offset": 0.755, "color": "#d9d9d9"}, {"offset": 0.755, "color": "#969696"}, {"offset": 0.76, "color": "#969696"},
      {"offset": 0.76, "color": "#d9d9d9"}, {"offset": 0.765, "color": "#d9d9d9"}, {"offset": 0.765, "color": "#969696"}, {"offset": 0.77, "color": "#969696"},
      {"offset": 0.77, "color": "#d9d9d9"}, {"offset": 0.775, "color": "#d9d9d9"}, {"offset": 0.775, "color": "#969696"}, {"offset": 0.78, "color": "#969696"},
      {"offset": 0.78, "color": "#d9d9d9"}, {"offset": 0.785, "color": "#d9d9d9"}, {"offset": 0.785, "color": "#969696"}, {"offset": 0.79, "color": "#969696"},
      {"offset": 0.79, "color": "#d9d9d9"}, {"offset": 0.795, "color": "#d9d9d9"}, {"offset": 0.795, "color": "#969696"}, {"offset": 0.8, "color": "#969696"},
      {"offset": 0.8, "color": "#d9d9d9"}, {"offset": 0.805, "color": "#d9d9d9"}, {"offset": 0.805, "color": "#969696"}, {"offset": 0.81, "color": "#969696"},
      {"offset": 0.81, "color": "#d9d9d9"}, {"offset": 0.815, "color": "#d9d9d9"}, {"offset": 0.815, "color": "#969696"}, {"offset": 0.82, "color": "#969696"},
      {"offset": 0.82, "color": "#d9d9d9"}, {"offset": 0.825, "color": "#d9d9d9"}, {"offset": 0.825, "color": "#969696"}, {"offset": 0.83, "color": "#969696"},
      {"offset": 0.83, "color": "#d9d9d9"}, {"offset": 0.835, "color": "#d9d9d9"}, {"offset": 0.835, "color": "#969696"}, {"offset": 0.84, "color": "#969696"},
      {"offset": 0.84, "color": "#d9d9d9"}, {"offset": 0.845, "color": "#d9d9d9"}, {"offset": 0.845, "color": "#969696"}, {"offset": 0.85, "color": "#969696"},
      {"offset": 0.85, "color": "#d9d9d9"}, {"offset": 0.855, "color": "#d9d9d9"}, {"offset": 0.855, "color": "#969696"}, {"offset": 0.86, "color": "#969696"},
      {"offset": 0.86, "color": "#d9d9d9"}, {"offset": 0.865, "color": "#d9d9d9"}, {"offset": 0.865, "color": "#969696"}, {"offset": 0.87, "color": "#969696"},
      {"offset": 0.87, "color": "#d9d9d9"}, {"offset": 0.875, "color": "#d9d9d9"}, {"offset": 0.875, "color": "#969696"}, {"offset": 0.88, "color": "#969696"},
      {"offset": 0.88, "color": "#d9d9d9"}, {"offset": 0.885, "color": "#d9d9d9"}, {"offset": 0.885, "color": "#969696"}, {"offset": 0.89, "color": "#969696"},
      {"offset": 0.89, "color": "#d9d9d9"}, {"offset": 0.895, "color": "#d9d9d9"}, {"offset": 0.895, "color": "#969696"}, {"offset": 0.9, "color": "#969696"},
      {"offset": 0.9, "color": "#d9d9d9"}, {"offset": 0.905, "color": "#d9d9d9"}, {"offset": 0.905, "color": "#969696"}, {"offset": 0.91, "color": "#969696"},
      {"offset": 0.91, "color": "#d9d9d9"}, {"offset": 0.915, "color": "#d9d9d9"}, {"offset": 0.915, "color": "#969696"}, {"offset": 0.92, "color": "#969696"},
      {"offset": 0.92, "color": "#d9d9d9"}, {"offset": 0.925, "color": "#d9d9d9"}, {"offset": 0.925, "color": "#969696"}, {"offset": 0.93, "color": "#969696"},
      {"offset": 0.93, "color": "#d9d9d9"}, {"offset": 0.935, "color": "#d9d9d9"}, {"offset": 0.935, "color": "#969696"}, {"offset": 0.94, "color": "#969696"},
      {"offset": 0.94, "color": "#d9d9d9"}, {"offset": 0.945, "color": "#d9d9d9"}, {"offset": 0.945, "color": "#969696"}, {"offset": 0.95, "color": "#969696"},
      {"offset": 0.95, "color": "#d9d9d9"}, {"offset": 0.955, "color": "#d9d9d9"}, {"offset": 0.955, "color": "#969696"}, {"offset": 0.96, "color": "#969696"},
      {"offset": 0.96, "color": "#d9d9d9"}, {"offset": 0.965, "color": "#d9d9d9"}, {"offset": 0.965, "color": "#969696"}, {"offset": 0.97, "color": "#969696"},
      {"offset": 0.97, "color": "#d9d9d9"}, {"offset": 0.975, "color": "#d9d9d9"}, {"offset": 0.975, "color": "#969696"}, {"offset": 0.98, "color": "#969696"},
      {"offset": 0.98, "color": "#d9d9d9"}, {"offset": 0.985, "color": "#d9d9d9"}, {"offset": 0.985, "color": "#969696"}, {"offset": 0.99, "color": "#969696"},
      {"offset": 0.99, "color": "#d9d9d9"}, {"offset": 0.995, "color": "#d9d9d9"}, {"offset": 0.995, "color": "#969696"}, {"offset": 1, "color": "#969696"}
    ]}}},
    {"transform": [{"filter": "datum.key === 'L10'"}], "mark": {"type": "area", "fill": "#b3b3b3", "stroke": "#111", "strokeWidth": 0.9}}
  ]
}
